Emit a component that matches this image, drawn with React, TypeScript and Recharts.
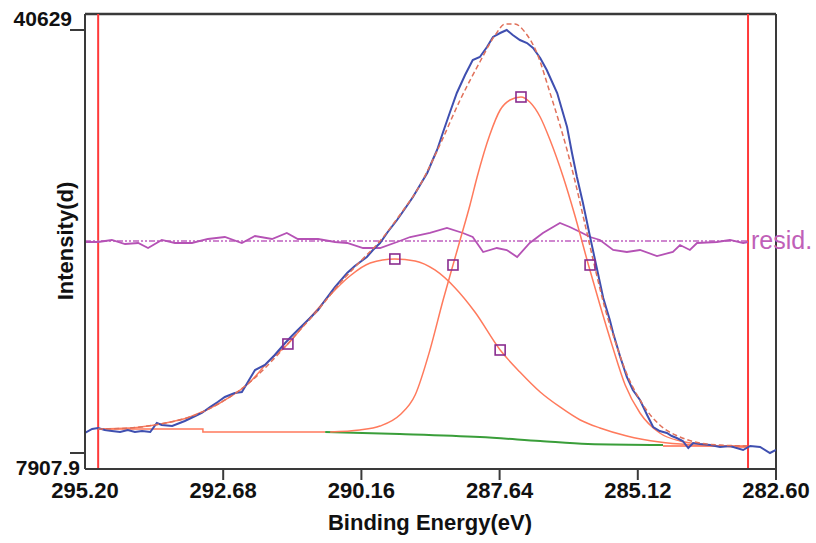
import { ComposedChart, Line, XAxis, YAxis, ReferenceLine } from "recharts";

// binding energy (eV) / intensity pairs
const rawEnergy = [295.2, 295.07, 294.96, 294.84, 294.71, 294.56, 294.42, 294.29, 294.16, 294.01, 293.89, 293.8, 293.61, 293.38, 293.19, 293.07, 292.92, 292.78, 292.65, 292.47, 292.34, 292.23, 292.1, 291.92, 291.74, 291.55, 291.43, 291.32, 291.19, 291.06, 290.95, 290.82, 290.64, 290.42, 290.28, 290.06, 289.95, 289.82, 289.68, 289.51, 289.37, 289.22, 289.09, 288.96, 288.86, 288.78, 288.67, 288.55, 288.42, 288.27, 288.13, 288.0, 287.87, 287.76, 287.63, 287.51, 287.4, 287.27, 287.14, 287.03, 286.9, 286.78, 286.69, 286.59, 286.5, 286.41, 286.32, 286.23, 286.12, 285.99, 285.86, 285.75, 285.63, 285.57, 285.44, 285.32, 285.21, 285.08, 284.95, 284.84, 284.72, 284.59, 284.5, 284.41, 284.3, 284.2, 284.11, 283.99, 283.8, 283.62, 283.44, 283.2, 283.07, 282.89, 282.71, 282.6];
const rawCounts = [9455, 9765, 9842, 9687, 9610, 9533, 9687, 9533, 9610, 9533, 10229, 10074, 9997, 10384, 10770, 11002, 11467, 11853, 12240, 12550, 12627, 13400, 14329, 14715, 15489, 16417, 16959, 17423, 17964, 18506, 18970, 19743, 20749, 21832, 22374, 23070, 23611, 24153, 25004, 25932, 26783, 27711, 28639, 29568, 30573, 31347, 32739, 34209, 35756, 37148, 38309, 38541, 39314, 40088, 40397, 40629, 40243, 39856, 39624, 39237, 38463, 37535, 36684, 35756, 34441, 33126, 31115, 29258, 27247, 24617, 22064, 19898, 18196, 17191, 15334, 13787, 12782, 12008, 10848, 9919, 9610, 9455, 9223, 9069, 8836, 8295, 8682, 8604, 8527, 8372, 8450, 8140, 8450, 8372, 7908, 8140];

const envEnergy = [294.96, 294.38, 293.83, 293.29, 292.74, 292.19, 291.64, 291.28, 290.92, 290.55, 290.19, 289.82, 289.46, 289.09, 288.73, 288.36, 288.0, 287.72, 287.54, 287.36, 287.18, 286.96, 286.72, 286.54, 286.41, 286.27, 286.08, 285.9, 285.72, 285.54, 285.35, 285.08, 284.72, 284.35, 283.99, 283.62, 283.13];
const envCounts = [9765, 9842, 10151, 10693, 11776, 13400, 15721, 17423, 19125, 21059, 22683, 24308, 26319, 28639, 31734, 35214, 38154, 40243, 41093, 41093, 40475, 38850, 35756, 33281, 31347, 29026, 25545, 22219, 19125, 16649, 14329, 12008, 10074, 9146, 8682, 8527, 8450];

const peak1Energy = [294.96, 294.38, 293.83, 293.29, 292.74, 292.19, 291.83, 291.5, 291.1, 290.73, 290.37, 290.0, 289.55, 289.18, 288.82, 288.45, 288.09, 287.63, 287.27, 286.9, 286.54, 286.17, 285.81, 285.32, 284.72, 284.11, 283.13];
const peak1Counts = [9765, 9842, 10151, 10693, 11776, 13400, 15102, 16340, 18351, 20130, 21600, 22606, 22915, 22760, 22064, 20672, 18815, 15876, 14174, 12627, 11467, 10461, 9842, 9223, 8759, 8527, 8372];

const peak2Energy = [290.73, 290.19, 289.82, 289.46, 289.18, 288.91, 288.67, 288.49, 288.36, 288.18, 288.05, 287.82, 287.63, 287.45, 287.25, 287.09, 286.9, 286.72, 286.48, 286.27, 286.03, 285.81, 285.59, 285.35, 285.08, 284.72, 284.35, 283.99, 283.62, 283.13];
const peak2Counts = [9533, 9687, 9997, 10848, 12395, 15876, 19743, 22451, 24385, 27092, 29258, 32507, 34441, 35214, 35447, 35060, 33899, 32120, 29258, 26319, 22606, 19357, 16263, 13168, 11002, 9455, 8836, 8604, 8450, 8372];

const leftBgEnergy = [294.96, 293.05, 293.05, 290.82];
const leftBgCounts = [9765, 9765, 9533, 9533];
const shirleyEnergy = [290.82, 289.46, 288.0, 286.9, 286.03, 284.66];
const shirleyCounts = [9533, 9378, 9146, 8836, 8604, 8527];
const rightBgEnergy = [284.66, 283.13];
const rightBgCounts = [8450, 8450];

const residEnergy = [295.2, 294.96, 294.71, 294.47, 294.23, 294.05, 293.8, 293.56, 293.25, 292.96, 292.65, 292.34, 292.1, 291.79, 291.52, 291.32, 290.95, 290.64, 290.42, 290.13, 289.82, 289.51, 289.27, 288.91, 288.6, 288.31, 288.13, 287.94, 287.69, 287.51, 287.32, 287.09, 286.85, 286.54, 286.36, 286.17, 285.99, 285.81, 285.57, 285.32, 285.08, 284.77, 284.48, 284.35, 284.17, 284.04, 283.68, 283.44, 283.2, 283.11];
const residCounts = [24230, 24230, 24385, 24076, 24153, 23766, 24385, 24153, 24153, 24462, 24617, 24153, 24694, 24462, 24927, 24462, 24462, 24230, 24153, 23766, 23766, 24230, 24617, 24927, 25313, 24927, 24617, 23457, 23766, 23611, 23070, 24153, 24927, 25700, 25391, 25004, 24617, 24385, 23611, 23457, 23611, 23147, 23457, 23998, 23611, 24153, 24230, 24385, 24153, 24230];
const residZeroEnergy = [295.2, 283.11];
const residZeroCounts = [24308, 24308];

// half-maximum markers on the two components
const markerEnergy = [291.5, 289.55, 287.63, 288.49, 287.25, 285.99];
const markerCounts = [16340, 22915, 15876, 22451, 35447, 22451];

const limitEnergy = [294.96, 283.11];
const xTicks = [295.2, 292.68, 290.16, 287.64, 285.12, 282.6];
const yTicks = [7907.9, 40629];
const yDomain = [6670, 41867];

const pairs = (e: number[], v: number[]) => e.map((x, i) => ({ e: x, v: v[i] }));

const AXIS = "#3a3a3a";
const FONT = "'Liberation Sans', Arial, sans-serif";

function XTick({ x, y, payload, index }: any) {
  return (
    <g>
      {index > 0 && <line x1={x} x2={x} y1={y} y2={y + 11} stroke={AXIS} strokeWidth={2} />}
      <text x={x} y={y + 29} textAnchor="middle" fontFamily={FONT} fontWeight="bold" fontSize={22} fill="#111">
        {Number(payload.value).toFixed(2)}
      </text>
    </g>
  );
}

function YTick({ x, y, payload }: any) {
  const top = payload.value > 20000;
  return (
    <g>
      <line x1={x - 15} x2={x} y1={y} y2={y} stroke={AXIS} strokeWidth={2} />
      <text x={top ? x - 13 : x - 5} y={top ? y - 4 : y + 22} textAnchor="end" fontFamily={FONT} fontWeight="bold" fontSize={21} fill="#111">
        {String(payload.value)}
      </text>
    </g>
  );
}

function Square({ cx, cy, index }: any) {
  return <rect key={index} x={cx - 5} y={cy - 5} width={10} height={10} fill="none" stroke="#8a2c8f" strokeWidth={1.6} />;
}

export default function App() {
  return (
    <div style={{ position: "absolute", left: 0, top: 0, width: 816, height: 543, background: "#fff" }}>
      <ComposedChart width={816} height={543} margin={{ top: 14, right: 40, bottom: 34, left: 10 }}>
        <XAxis
          type="number"
          dataKey="e"
          reversed
          domain={[282.6, 295.2]}
          ticks={xTicks}
          allowDataOverflow
          height={40}
          tickSize={0}
          tickMargin={0}
          tick={<XTick />}
          axisLine={{ stroke: AXIS, strokeWidth: 2 }}
          label={{
            content: () => (
              <text x={430} y={530} textAnchor="middle" fontFamily={FONT} fontWeight="bold" fontSize={22} fill="#111">
                Binding Energy(eV)
              </text>
            ),
          }}
        />
        <YAxis
          type="number"
          dataKey="v"
          domain={yDomain}
          ticks={yTicks}
          allowDataOverflow
          width={75}
          tickSize={0}
          tickMargin={0}
          tick={<YTick />}
          axisLine={{ stroke: AXIS, strokeWidth: 2 }}
          label={{
            content: () => (
              <text x={73} y={241} transform="rotate(-90, 73, 241)" textAnchor="middle" fontFamily={FONT} fontWeight="bold" fontSize={22} fill="#111">
                Intensity(d)
              </text>
            ),
          }}
        />
        <ReferenceLine y={yDomain[1]} stroke={AXIS} strokeWidth={2.5} />
        <ReferenceLine x={282.6} stroke={AXIS} strokeWidth={2} />
        {limitEnergy.map((e) => (
          <ReferenceLine key={e} x={e} stroke="#ff3a3a" strokeWidth={2} />
        ))}
        <Line data={pairs(residZeroEnergy, residZeroCounts)} dataKey="v" stroke="#c060c0" strokeWidth={1.5} strokeDasharray="6 2 2 2 2 2" dot={false} isAnimationActive={false}
          label={(p: any) => p.index === 1 ? (
            <text key="resid" x={p.x + 3} y={p.y + 8} fontFamily={FONT} fontSize={25} fill="#c060b8">resid.</text>
          ) : null}
        />
        <Line data={pairs(residEnergy, residCounts)} dataKey="v" type="linear" stroke="#b552b5" strokeWidth={1.8} dot={false} isAnimationActive={false} />
        <Line data={pairs(leftBgEnergy, leftBgCounts)} dataKey="v" type="linear" stroke="#ff7a5c" strokeWidth={1.5} dot={false} isAnimationActive={false} />
        <Line data={pairs(shirleyEnergy, shirleyCounts)} dataKey="v" type="monotone" stroke="#3a9e3a" strokeWidth={2} dot={false} isAnimationActive={false} />
        <Line data={pairs(rightBgEnergy, rightBgCounts)} dataKey="v" type="linear" stroke="#ff6a4c" strokeWidth={1.5} dot={false} isAnimationActive={false} />
        <Line data={pairs(peak1Energy, peak1Counts)} dataKey="v" type="monotone" stroke="#ff7a5c" strokeWidth={1.5} dot={false} isAnimationActive={false} />
        <Line data={pairs(peak2Energy, peak2Counts)} dataKey="v" type="monotone" stroke="#ff7a5c" strokeWidth={1.5} dot={false} isAnimationActive={false} />
        <Line data={pairs(rawEnergy, rawCounts)} dataKey="v" type="linear" stroke="#3f4fb0" strokeWidth={2} dot={false} isAnimationActive={false} />
        <Line data={pairs(envEnergy, envCounts)} dataKey="v" type="monotone" stroke="#e0705a" strokeWidth={1.5} strokeDasharray="5 3" dot={false} isAnimationActive={false} />
        <Line data={pairs(markerEnergy, markerCounts)} dataKey="v" stroke="none" dot={<Square />} isAnimationActive={false} />
      </ComposedChart>
    </div>
  );
}
